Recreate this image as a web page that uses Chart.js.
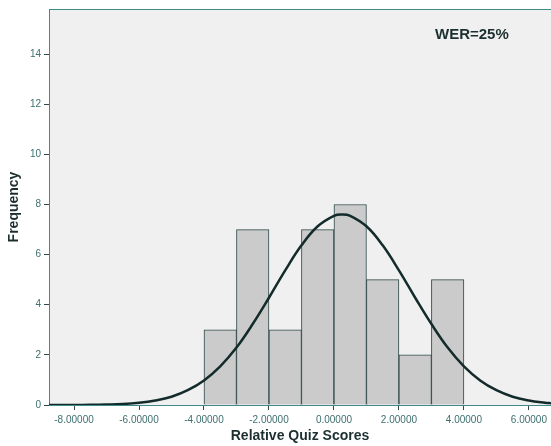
<!DOCTYPE html>
<html>
<head>
<meta charset="utf-8">
<script src="https://cdn.jsdelivr.net/npm/chart.js@4/dist/chart.umd.min.js"></script>
<style>
    html, body { margin: 0; padding: 0; background: #ffffff; }
    #wrap { width: 551px; height: 446px; position: relative; }
</style>
</head>
<body>
<div id="wrap"><canvas id="histogram"></canvas></div>
<script>
// Histogram bins (centre of each 1-wide bin) and their counts
const binCenters = [-3.5, -2.5, -1.5, -0.5, 0.5, 1.5, 2.5, 3.5];
const binCounts = [3, 7, 3, 7, 8, 5, 2, 5];

// Fitted normal curve
const curveX = [-8.77, -8.5, -8, -7.5, -7, -6.5, -6, -5.5, -5, -4.5, -4, -3.5, -3, -2.5, -2, -1.5,
    -1, -0.5, 0, 0.25, 0.5, 1, 1.5, 2, 2.5, 3, 3.5, 4, 4.5, 5, 5.5, 6, 6.5, 6.68];
const curveY = [0.00, 0.00, 0.00, 0.01, 0.02, 0.04, 0.09, 0.18, 0.33, 0.59, 0.98, 1.54, 2.29, 3.23, 4.28, 5.37,
    6.37, 7.13, 7.55, 7.60, 7.55, 7.13, 6.37, 5.37, 4.28, 3.23, 2.29, 1.54, 0.98, 0.59, 0.33, 0.18, 0.09, 0.07];

const xTicks = [-8, -6, -4, -2, 0, 2, 4, 6];
const yTicks = [0, 2, 4, 6, 8, 10, 12, 14];
const annotationText = 'WER=25%';

const AXIS_COLOR = '#3f8a8a';
const TICK_COLOR = '#3d6f6f';
const FONT = '"Liberation Sans", Arial, sans-serif';

const plotFrame = {
    id: 'plotFrame',
    beforeDraw(chart) {
        const {ctx, chartArea: a} = chart;
        ctx.save();
        ctx.fillStyle = '#f0f0f0';
        ctx.fillRect(a.left, a.top, a.right - a.left, a.bottom - a.top);
        ctx.restore();
    },
    afterDraw(chart) {
        const {ctx, chartArea: a} = chart;
        ctx.save();
        ctx.strokeStyle = AXIS_COLOR;
        ctx.lineWidth = 1;
        ctx.beginPath();
        ctx.moveTo(a.left, a.top + 0.5);
        ctx.lineTo(a.right, a.top + 0.5);
        ctx.stroke();

        ctx.fillStyle = '#1c2f2f';
        ctx.font = 'bold 15px ' + FONT;
        ctx.textAlign = 'left';
        ctx.textBaseline = 'middle';
        ctx.fillText(annotationText, 435, 35);
        ctx.restore();
    }
};

const barData = binCenters.map((x, i) => ({x: x, y: binCounts[i]}));
const lineData = curveX.map((x, i) => ({x: x, y: curveY[i]}));

new Chart(document.getElementById('histogram'), {
    data: {
        datasets: [{
            type: 'line',
            data: lineData,
            borderColor: '#132b2b',
            borderWidth: 2.5,
            pointRadius: 0,
            tension: 0.4,
            fill: false,
            order: 0
        }, {
            type: 'bar',
            data: barData,
            backgroundColor: '#cbcbcb',
            borderColor: '#2f4848',
            borderWidth: 1,
            barPercentage: 1,
            categoryPercentage: 1,
            order: 1
        }]
    },
    options: {
        responsive: true,
        maintainAspectRatio: false,
        animation: false,
        layout: {padding: {top: 9, right: 0, left: 0, bottom: 0}},
        plugins: {
            legend: {display: false},
            tooltip: {enabled: false}
        },
        scales: {
            x: {
                type: 'linear',
                offset: false,
                min: -8.77,
                max: 6.68,
                afterBuildTicks: (scale) => { scale.ticks = xTicks.map(v => ({value: v})); },
                afterFit: (scale) => { scale.height = 41; },
                ticks: {
                    color: TICK_COLOR,
                    font: {family: FONT, size: 10},
                    padding: 4,
                    maxRotation: 0,
                    callback: (v) => Number(v).toFixed(5)
                },
                grid: {drawOnChartArea: false, drawTicks: true, tickLength: 5, color: '#2f4848', offset: false},
                border: {display: true, color: AXIS_COLOR, width: 1},
                title: {
                    display: true,
                    text: 'Relative Quiz Scores',
                    color: '#1c2f2f',
                    font: {family: FONT, size: 14, weight: 'bold'},
                    padding: {top: 0, bottom: 1}
                }
            },
            y: {
                type: 'linear',
                min: 0,
                max: 15.8,
                afterBuildTicks: (scale) => { scale.ticks = yTicks.map(v => ({value: v})); },
                afterFit: (scale) => { scale.width = 49; },
                ticks: {
                    color: TICK_COLOR,
                    font: {family: FONT, size: 10},
                    padding: 3
                },
                grid: {drawOnChartArea: false, drawTicks: true, tickLength: 5, color: '#2f4848'},
                border: {display: true, color: AXIS_COLOR, width: 1},
                title: {
                    display: true,
                    text: 'Frequency',
                    color: '#1c2f2f',
                    font: {family: FONT, size: 14, weight: 'bold'},
                    padding: {top: 6, bottom: 0}
                }
            }
        }
    },
    plugins: [plotFrame]
});
</script>
</body>
</html>
